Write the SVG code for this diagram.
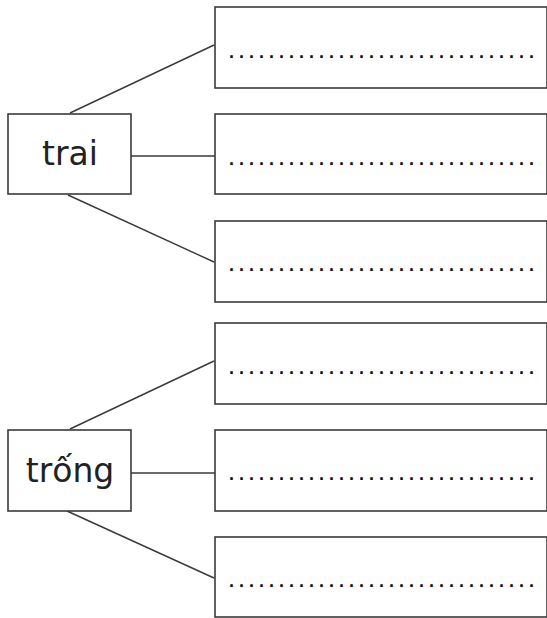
<svg xmlns="http://www.w3.org/2000/svg" width="547" height="618" viewBox="0 0 547 618">
<style>
.box{fill:#fff;stroke:#3a3a3a;stroke-width:1.6}
.lbl{font-family:"DejaVu Sans",sans-serif;font-size:33px;fill:#222;text-anchor:middle}
.dots{font-family:"Liberation Sans",sans-serif;font-size:18px;fill:#111;letter-spacing:5.0px;font-weight:bold}
.conn line{stroke:#3a3a3a;stroke-width:1.4}
</style>
<rect width="547" height="618" fill="#fff"/>
<g class="conn" id="connectors">
<line x1="70" y1="113" x2="214" y2="45"/>
<line x1="131" y1="156" x2="215" y2="156"/>
<line x1="68" y1="195" x2="214" y2="262"/>
<line x1="70" y1="429" x2="214" y2="361"/>
<line x1="131" y1="473" x2="215" y2="473"/>
<line x1="67" y1="511" x2="214" y2="578"/>
</g>
<g id="trai"><rect class="box" x="8" y="114" width="123" height="80"/><text class="lbl" x="70" y="165">trai</text></g>
<g id="trong"><rect class="box" x="8" y="430" width="123" height="81"/><text class="lbl" x="70" y="482">trống</text></g>
<g id="b1"><rect class="box" x="215" y="7" width="332" height="81"/><text class="dots" x="229" y="58">...............................</text></g>
<g id="b2"><rect class="box" x="215" y="114" width="332" height="80"/><text class="dots" x="229" y="165">...............................</text></g>
<g id="b3"><rect class="box" x="215" y="221" width="332" height="81"/><text class="dots" x="229" y="271">...............................</text></g>
<g id="b4"><rect class="box" x="215" y="323" width="332" height="81"/><text class="dots" x="229" y="374">...............................</text></g>
<g id="b5"><rect class="box" x="215" y="430" width="332" height="81"/><text class="dots" x="229" y="480">...............................</text></g>
<g id="b6"><rect class="box" x="215" y="537" width="332" height="80"/><text class="dots" x="229" y="587">...............................</text></g>
</svg>
